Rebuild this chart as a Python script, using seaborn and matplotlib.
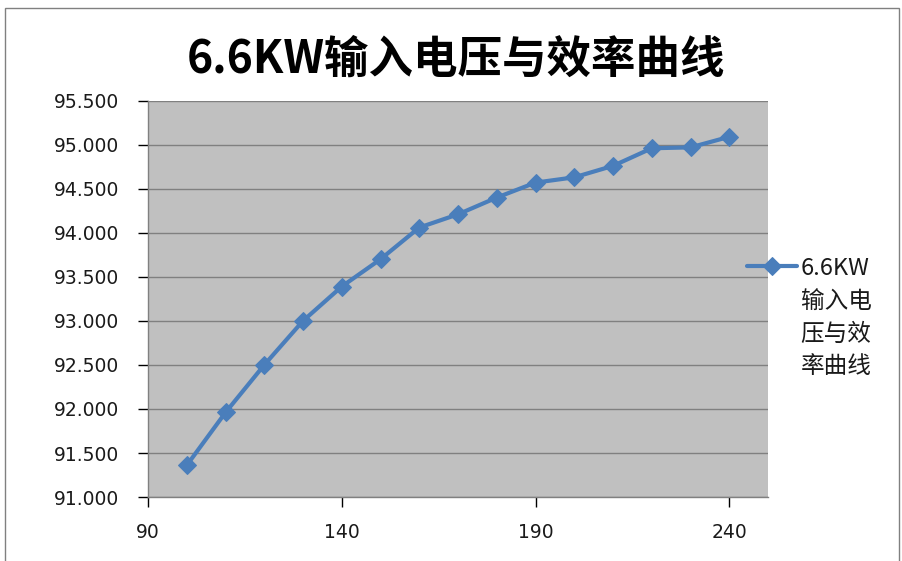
import numpy as np
import pandas as pd
import matplotlib
matplotlib.use("Agg")
import matplotlib.pyplot as plt
from matplotlib.legend_handler import HandlerLine2D
import seaborn as sns

# --- data ---
voltage = [100, 110, 120, 130, 140, 150, 160, 170, 180, 190, 200, 210, 220, 230, 240]
efficiency = [91.36, 91.96, 92.50, 93.00, 93.39, 93.70, 94.06, 94.21, 94.40,
              94.57, 94.63, 94.76, 94.96, 94.97, 95.09]
x_ticks = [90, 140, 190, 240]
y_ticks = [91.0, 91.5, 92.0, 92.5, 93.0, 93.5, 94.0, 94.5, 95.0, 95.5]
title = "6.6KW输入电压与效率曲线"
series_label = "6.6KW\n输入电\n压与效\n率曲线"

LINE_COLOR = "#4A7EBB"


class RaisedLineHandler(HandlerLine2D):
    """Line handler that lifts the sample up to the first line of a multi-line label."""

    def __init__(self, shift, **kw):
        super().__init__(**kw)
        self.shift = shift

    def create_artists(self, legend, orig_handle, xdescent, ydescent, width, height,
                       fontsize, trans):
        artists = super().create_artists(legend, orig_handle, xdescent, ydescent,
                                         width, height, fontsize, trans)
        for a in artists:
            a.set_ydata(np.asarray(a.get_ydata(), dtype=float) + self.shift)
        return artists


sns.set_style("white")
plt.rcParams['font.family'] = ['Noto Sans CJK SC', 'DejaVu Sans']

df = pd.DataFrame({"voltage": voltage, "efficiency": efficiency})

fig = plt.figure(figsize=(9.03, 5.61), dpi=100)
ax = fig.add_axes([0.1639, 0.114, 0.6866, 0.7065])
ax.set_facecolor("#C0C0C0")

sns.lineplot(data=df, x="voltage", y="efficiency", ax=ax, color=LINE_COLOR,
             linewidth=3, marker="D", markersize=9, markeredgecolor=LINE_COLOR,
             label=series_label)

ax.set_xlim(90, 250)
ax.set_ylim(91.0, 95.5)
ax.set_xticks(x_ticks)
ax.set_yticks(y_ticks)
ax.set_yticklabels([f"{v:.3f}" for v in y_ticks])
ax.grid(axis="y", color="#808080", linewidth=1.0)
ax.set_axisbelow(True)
ax.set_xlabel("")
ax.set_ylabel("")
ax.tick_params(axis="both", labelsize=13.5, colors="#000000", length=7, width=1,
               direction="out", left=True, bottom=True)
ax.tick_params(axis="x", pad=12)
ax.tick_params(axis="y", pad=14)
for lbl in ax.get_xticklabels() + ax.get_yticklabels():
    lbl.set_color("#1a1a1a")
    lbl.set_family("DejaVu Sans")
for side in ["top", "right"]:
    ax.spines[side].set_visible(False)
for side in ["left", "bottom"]:
    ax.spines[side].set_color("#808080")
    ax.spines[side].set_linewidth(1.0)
for t in ax.xaxis.get_ticklines() + ax.yaxis.get_ticklines():
    t.set_color("#808080")

# legend handle sits beside the first line of the label, as in the reference
leg = ax.legend(loc="upper left", bbox_to_anchor=(0.9515, 0.63), frameon=False,
                fontsize=17, handlelength=2.1, handletextpad=0.15,
                borderaxespad=0,
                handler_map={plt.Line2D: RaisedLineHandler(shift=38)})
for txt in leg.get_texts():
    txt.set_linespacing(1.55)
    txt.set_color("#1a1a1a")

fig.text(0.505, 0.893, title, ha="center", va="center", fontsize=32,
         fontweight="bold", color="#000000")

# outer chart frame
fig.patches.append(plt.Rectangle((0.006, -0.01), 0.99, 0.995, transform=fig.transFigure,
                                 fill=False, edgecolor="#808080", linewidth=1.0))

fig.savefig("out.png", dpi=100)
